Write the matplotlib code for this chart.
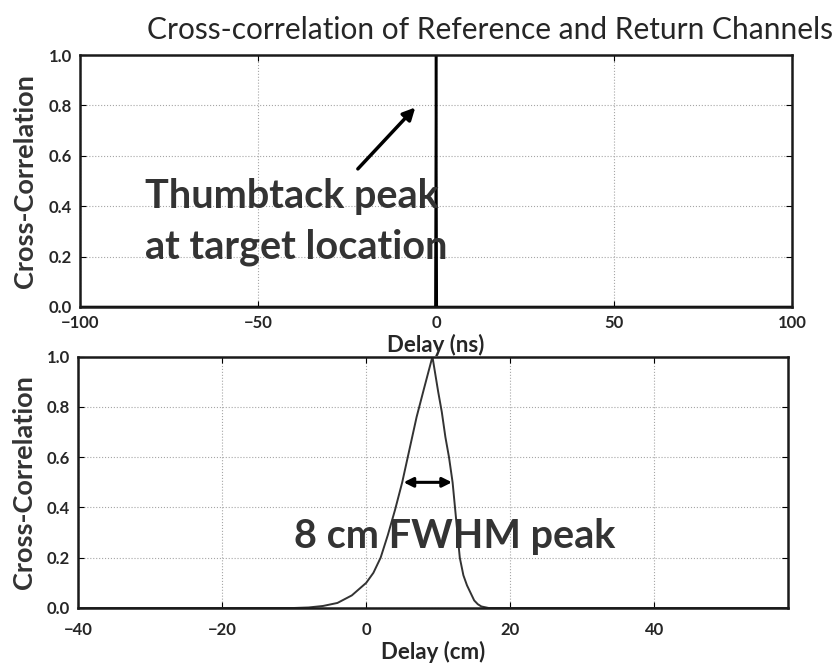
import matplotlib

matplotlib.use("Agg")

import matplotlib.pyplot as plt

# top panel: thumbtack peak vs delay in ns
delay_ns = [-100, -0.2, 0, 0.2, 100]
corr_ns = [0.0, 0.0, 1.0, 0.0, 0.0]

# bottom panel: zoomed peak vs delay in cm
delay_cm = [-40, -20, -10, -8, -6, -4, -2, 0, 1, 2, 3, 4, 5, 6, 7, 8, 9.2,
            10, 10.5, 11, 11.5, 12, 12.5, 13, 13.5, 14, 14.5, 15, 15.5, 16, 17, 20, 40, 58.5]
corr_cm = [0.0, 0.0, 0.0, 0.002, 0.008, 0.02, 0.05, 0.1, 0.14, 0.2, 0.29, 0.39, 0.5, 0.63, 0.76, 0.87, 1.0,
           0.86, 0.78, 0.68, 0.6, 0.5, 0.35, 0.2, 0.13, 0.09, 0.06, 0.03, 0.015, 0.006, 0.0, 0.0, 0.0, 0.0]

ns_ticks = [-100, -50, 0, 50, 100]
cm_ticks = [-40, -20, 0, 20, 40]
y_ticks = [0.0, 0.2, 0.4, 0.6, 0.8, 1.0]

FONT = ["Lato", "DejaVu Sans"]

fig = plt.figure(figsize=(8.33, 6.63), dpi=100)
ax_top = fig.add_axes([0.096, 0.537, 0.855, 0.380])
ax_bot = fig.add_axes([0.094, 0.083, 0.852, 0.379])


def style_axes(ax, xticks, xlabel, xpad):
    ax.set_xticks(xticks)
    ax.set_xticklabels([f"\u2212{-v}" if v < 0 else str(v) for v in xticks])
    ax.set_yticks(y_ticks)
    ax.set_yticklabels([f"{v:.1f}" for v in y_ticks])
    ax.set_ylim(0, 1)
    ax.grid(True, color="0.65", linestyle=":", linewidth=0.8)
    ax.tick_params(direction="in", top=True, right=True, length=4, labelsize=12)
    ax.tick_params(axis="x", pad=xpad)
    ax.tick_params(axis="y", pad=6)
    for lbl in ax.get_xticklabels() + ax.get_yticklabels():
        lbl.set_fontweight("bold")
        lbl.set_family(FONT)
        lbl.set_color("0.15")
    for spine in ax.spines.values():
        spine.set_linewidth(1.8)
        spine.set_color("0.1")
    ax.set_xlabel(xlabel, fontsize=16, fontweight="bold", family=FONT, color="0.15", labelpad=2)
    ax.set_ylabel("Cross-Correlation", fontsize=19.5, fontweight="bold", family=FONT, color="0.2")
    ax.yaxis.set_label_coords(-0.060, 0.5)


ax_top.plot(delay_ns, corr_ns, color="black", linewidth=1.8)
ax_top.set_xlim(-100, 100)
style_axes(ax_top, ns_ticks, "Delay (ns)", 6)
ax_top.annotate("", xy=(-5.3, 0.80), xytext=(-22.5, 0.54),
                arrowprops=dict(arrowstyle="-|>", color="black", lw=2.5, mutation_scale=18))
ax_top.text(-81.7, 0.393, "Thumbtack peak", fontsize=28.5, fontweight="bold",
            family=FONT, color="0.2", va="baseline", ha="left")
ax_top.text(-81.7, 0.194, "at target location", fontsize=28.5, fontweight="bold",
            family=FONT, color="0.2", va="baseline", ha="left")

ax_bot.plot(delay_cm, corr_cm, color="0.2", linewidth=1.4)
ax_bot.set_xlim(-40, 58.6)
style_axes(ax_bot, cm_ticks, "Delay (cm)", 10)
ax_bot.annotate("", xy=(4.8, 0.5), xytext=(12.3, 0.5),
                arrowprops=dict(arrowstyle="<|-|>", color="black", lw=2.2, mutation_scale=14))
ax_bot.text(-10.1, 0.24, "8 cm FWHM peak", fontsize=28.5, fontweight="bold",
            family=FONT, color="0.2", va="baseline", ha="left")

fig.text(0.176, 0.955, "Cross-correlation of Reference and Return Channels", fontsize=21.5,
         family=FONT, color="0.15", ha="left", va="center")

fig.savefig("out.png", dpi=100, facecolor="white")
